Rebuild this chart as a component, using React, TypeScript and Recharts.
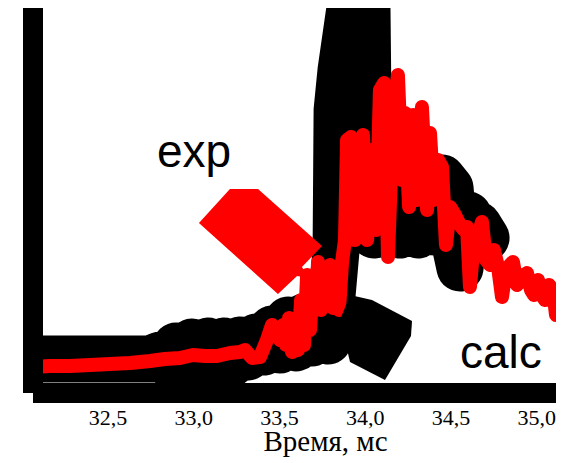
import { LineChart, Line, XAxis, YAxis, ReferenceArea, ReferenceDot, Label } from 'recharts'

// время, мс
const expTime = [
  32.062, 32.161, 32.278, 32.395, 32.511, 32.628, 32.745, 32.832, 32.92, 32.995,
  33.065, 33.135, 33.211, 33.27, 33.299, 33.34, 33.386, 33.427, 33.456, 33.48,
  33.503, 33.521, 33.538, 33.556, 33.573, 33.591, 33.608, 33.626, 33.643, 33.661,
  33.678, 33.696, 33.713, 33.725, 33.742, 33.759, 33.777, 33.795, 33.812, 33.83,
  33.847, 33.865, 33.882, 33.894, 33.917, 33.941,
  33.964, 33.987, 34.011, 34.04, 34.063, 34.086, 34.11, 34.133, 34.162, 34.191,
  34.215, 34.232, 34.256, 34.279, 34.302, 34.331, 34.361, 34.378, 34.401, 34.425,
  34.448, 34.471, 34.495, 34.524, 34.553, 34.576, 34.594, 34.611, 34.635, 34.658,
  34.681, 34.705, 34.728, 34.751, 34.775, 34.798, 34.821, 34.845, 34.862, 34.886,
  34.909, 34.926, 34.944, 34.967, 34.985, 35.008, 35.031, 35.049, 35.072, 35.096,
  35.113, 35.137,
]
const expValue = [
  26, 27, 27, 28, 29, 30, 32, 34, 35, 38,
  37, 37, 40, 41, 43, 35, 36, 53, 68, 63,
  53, 68, 48, 75, 41, 71, 43, 93, 48, 118,
  63, 113, 93, 131, 83, 125, 93, 128, 85, 123,
  83, 131, 153, 253, 256, 153,
  243, 258, 153, 243, 163, 303, 310, 136, 273, 318,
  213, 280, 186, 278, 193, 286, 183, 260, 193, 233,
  226, 148, 186, 178, 168, 163, 166, 106, 153, 158,
  171, 133, 128, 143, 126, 96, 123, 128, 131, 108,
  113, 118, 120, 103, 98, 113, 98, 93, 108, 103,
  78, 83,
]

const calcTime = [
  32.062, 32.395, 32.745, 32.803, 32.85, 32.896, 32.943, 32.99, 33.036, 33.083,
  33.13, 33.176, 33.223, 33.27, 33.316, 33.363, 33.41, 33.456, 33.503, 33.55,
  33.596, 33.643, 33.69, 33.736, 33.783, 33.83, 33.836, 33.859, 33.911, 33.923,
  34.005, 34.016, 34.022, 34.051, 34.116, 34.156, 34.203, 34.261, 34.308, 34.355,
  34.401, 34.448, 34.495, 34.524, 34.553, 34.576, 34.6, 34.623, 34.658, 34.705,
]
const calcValue = [
  34, 34, 34, 38, 30, 47, 30, 51, 30, 52,
  30, 52, 30, 53, 36, 56, 41, 64, 43, 73,
  45, 76, 50, 78, 52, 143, 283, 323, 385, 473,
  473, 293, 193, 158, 163, 193, 158, 208, 158, 218,
  161, 215, 205, 148, 125, 153, 178, 158, 168, 155,
]

const timeTicks = [32.5, 33.0, 33.5, 34.0, 34.5, 35.0]

const expData = expTime.map((t, i) => ({ t, v: expValue[i] }))
const calcData = calcTime.map((t, i) => ({ t, v: calcValue[i] }))

// выноски: рамка в единицах данных + вершины в долях рамки
const expCallout = { x1: 33.03, x2: 33.748, y1: 99, y2: 204 }
const expCalloutShape = [
  [0.252, 0], [0.48, 0], [1, 0.543], [0.837, 0.743], [0.894, 0.848],
  [0.797, 0.829], [0.642, 1], [0, 0.324],
]
const calcCallout = { x1: 33.853, x2: 34.273, y1: 13, y2: 98 }
const calcCalloutShape = [
  [0.139, 0], [0.444, 0.059], [1, 0.306], [0.986, 0.482], [0.625, 1],
  [0.139, 0.788], [0, 0.294],
]

const serif = '"Liberation Serif", "Times New Roman", serif'
const sans = '"Liberation Sans", Arial, sans-serif'

function callout(points: number[][], fill: string) {
  return (props: any) => {
    const { x, y, width, height } = props
    const d = points.map(([fx, fy]) => `${x + fx * width},${y + fy * height}`).join(' ')
    return <polygon points={d} fill={fill} />
  }
}

function word(text: string) {
  return (props: any) => (
    <text x={props.cx} y={props.cy} fontFamily={sans} fontSize={46} fill="#000">
      {text}
    </text>
  )
}

function TimeTick(props: any) {
  const { x, y, payload } = props
  return (
    <text x={x} y={y + 15} textAnchor="middle" fontFamily={serif} fontSize={22} fill="#000">
      {Number(payload.value).toFixed(1).replace('.', ',')}
    </text>
  )
}

export default function App() {
  return (
    <div style={{ width: 561, height: 455 }}>
      <LineChart width={561} height={455} margin={{ top: 0, right: 13, bottom: 10, left: 10 }}>
        <XAxis
          type="number"
          dataKey="t"
          domain={[32.062, 35.113]}
          allowDataOverflow
          ticks={timeTicks}
          interval={0}
          axisLine={{ stroke: '#000', strokeWidth: 20 }}
          tickLine={false}
          tickMargin={11}
          height={60}
          tick={<TimeTick />}
        >
          <Label
            value="Время, мс"
            position="insideBottom"
            offset={2}
            dx={31}
            style={{ fill: '#000', fontSize: 29, fontFamily: serif }}
          />
        </XAxis>
        <YAxis
          type="number"
          domain={[0, 385]}
          allowDataOverflow
          width={15}
          tick={false}
          tickLine={false}
          axisLine={{ stroke: '#000', strokeWidth: 20 }}
        />
        <Line
          data={calcData}
          dataKey="v"
          type="linear"
          stroke="#000"
          strokeWidth={47}
          strokeLinejoin="round"
          strokeLinecap="round"
          dot={false}
          isAnimationActive={false}
        />
        <ReferenceArea {...calcCallout} zIndex={1000} shape={callout(calcCalloutShape, '#000')} />
        <Line
          data={expData}
          dataKey="v"
          type="linear"
          stroke="#ff0000"
          strokeWidth={14}
          strokeLinejoin="round"
          strokeLinecap="round"
          dot={false}
          isAnimationActive={false}
        />
        <ReferenceArea {...expCallout} zIndex={1000} shape={callout(expCalloutShape, '#ff0000')} />
        <ReferenceDot x={32.785} y={226} r={0} zIndex={1000} shape={word('exp')} />
        <ReferenceDot x={34.553} y={25} r={0} zIndex={1000} shape={word('calc')} />
      </LineChart>
    </div>
  )
}
